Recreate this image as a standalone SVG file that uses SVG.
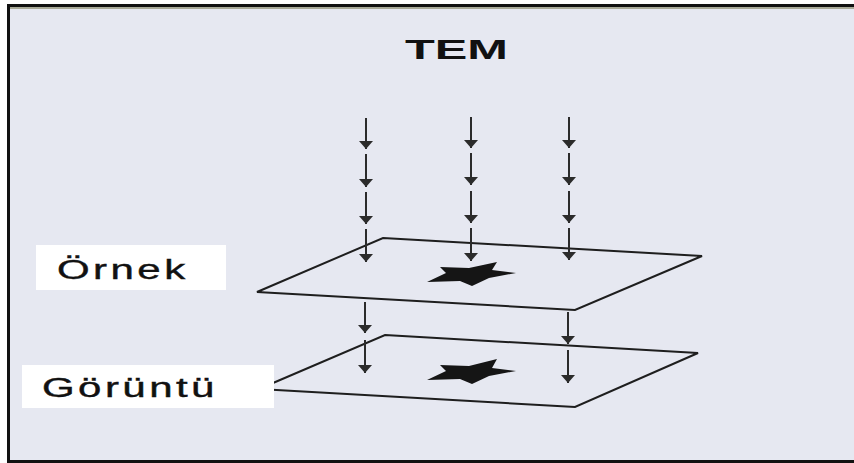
<svg xmlns="http://www.w3.org/2000/svg" width="854" height="463" viewBox="0 0 854 463">
<defs>
<marker id="ah" viewBox="0 0 8 14" markerWidth="8" markerHeight="14" refX="8" refY="7" orient="auto" markerUnits="userSpaceOnUse">
<path d="M0,0 L8,7 L0,14 Z" fill="#2b2b2b"/>
</marker>
</defs>
<style>
.plane{fill:none;stroke:#1e1e1e;stroke-width:2;stroke-linejoin:miter}
.arr{stroke:#2b2b2b;stroke-width:2;fill:none;marker-end:url(#ah)}
.lbl{fill:#ffffff}
.t{font-family:"Liberation Sans",Arial,sans-serif;fill:#111}
.lt{stroke:#111;stroke-width:0.4}
.star{fill:#151515}
</style>
<rect x="0" y="0" width="854" height="463" fill="#ffffff"/>
<rect x="9" y="7" width="845" height="454" fill="#e6e8f1"/>
<line x1="7" y1="5.5" x2="854" y2="5.5" stroke="#111" stroke-width="3"/>
<line x1="9" y1="8" x2="854" y2="8" stroke="#a9aa98" stroke-width="2"/>
<line x1="8.5" y1="4" x2="8.5" y2="463" stroke="#111" stroke-width="3"/>
<line x1="7" y1="461.5" x2="854" y2="461.5" stroke="#111" stroke-width="3"/>

<g id="title">
<text class="t" x="405" y="59" font-size="28" font-weight="bold" textLength="103" lengthAdjust="spacingAndGlyphs">TEM</text>
</g>

<g id="plane-sample">
<polygon class="plane" points="383,238 702,256 575,310 257,292"/>
<polygon class="star" points="427,282 446,273 440,267 469,268 497,262 492,270 516,273 489,278 472,286 460,281"/>
</g>

<g id="plane-image">
<polygon class="plane" points="385,335 698,353 575,407 259,389"/>
<polygon class="star" points="427,380 446,371 440,365 469,366 497,359 492,368 516,371 489,376 472,384 460,379"/>
</g>

<g id="connectors">
<line class="arr" x1="366" y1="118" x2="366" y2="149"/>
<line class="arr" x1="366" y1="154" x2="366" y2="187"/>
<line class="arr" x1="366" y1="192" x2="366" y2="224"/>
<line class="arr" x1="366" y1="229" x2="366" y2="262"/>
<line class="arr" x1="471" y1="117" x2="471" y2="148"/>
<line class="arr" x1="471" y1="153" x2="471" y2="185"/>
<line class="arr" x1="471" y1="191" x2="471" y2="223"/>
<line class="arr" x1="471" y1="228" x2="471" y2="261"/>
<line class="arr" x1="569" y1="117" x2="569" y2="148"/>
<line class="arr" x1="569" y1="153" x2="569" y2="185"/>
<line class="arr" x1="569" y1="191" x2="569" y2="223"/>
<line class="arr" x1="569" y1="228" x2="569" y2="260"/>
<line class="arr" x1="365" y1="302" x2="365" y2="333"/>
<line class="arr" x1="365" y1="340" x2="365" y2="373"/>
<line class="arr" x1="568" y1="312" x2="568" y2="344"/>
<line class="arr" x1="568" y1="350" x2="568" y2="383"/>
</g>

<g id="label-ornek">
<rect class="lbl" x="36" y="245" width="190" height="45"/>
<g transform="translate(57,279) scale(1.5,1)">
<text class="t lt" x="0" y="0" font-size="28" letter-spacing="2.3">Örnek</text>
</g>
</g>

<g id="label-goruntu">
<rect class="lbl" x="22" y="365" width="252" height="43"/>
<g transform="translate(42,397) scale(1.5,1)">
<text class="t lt" x="0" y="0" font-size="28" letter-spacing="2.3">Görüntü</text>
</g>
</g>
</svg>
